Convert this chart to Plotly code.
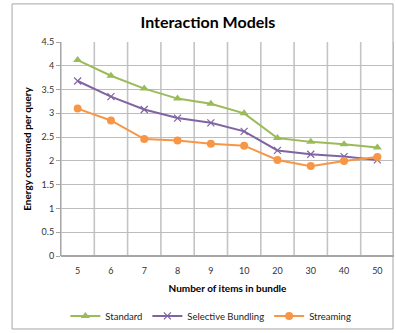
import plotly.graph_objects as go

categories = ["5", "6", "7", "8", "9", "10", "20", "30", "40", "50"]
standard = [4.12, 3.79, 3.52, 3.31, 3.20, 3.00, 2.48, 2.40, 2.35, 2.28]
selective = [3.68, 3.35, 3.08, 2.90, 2.80, 2.62, 2.22, 2.14, 2.09, 2.02]
streaming = [3.10, 2.85, 2.46, 2.43, 2.36, 2.32, 2.02, 1.89, 2.00, 2.08]
y_ticks = [0, 0.5, 1, 1.5, 2, 2.5, 3, 3.5, 4, 4.5]

FONT = "Lato"
GRID = "#BDBDBD"
fig = go.Figure()
fig.add_trace(go.Scatter(x=categories, y=standard, name="Standard", mode="lines+markers",
                         line=dict(color="#9BBB59", width=2),
                         marker=dict(symbol="triangle-up", size=8, color="#9BBB59")))
fig.add_trace(go.Scatter(x=categories, y=selective, name="Selective Bundling", mode="lines+markers",
                         line=dict(color="#8064A2", width=2),
                         marker=dict(symbol="x-thin", size=7, color="#8064A2",
                                     line=dict(color="#8064A2", width=1.2))))
fig.add_trace(go.Scatter(x=categories, y=streaming, name="Streaming", mode="lines+markers",
                         line=dict(color="#F79646", width=2),
                         marker=dict(symbol="circle", size=8, color="#F79646")))

# vertical grid lines at the category boundaries
shapes = [dict(type="line", xref="x", yref="paper", x0=i - 0.5, x1=i - 0.5, y0=0, y1=1,
               line=dict(color="#C4C4C4", width=1.6), layer="below")
          for i in range(len(categories) + 1)]
shapes.append(dict(type="rect", xref="paper", yref="paper", x0=-0.147, x1=0.997, y0=-0.341, y1=1.178,
                   line=dict(color="#A6A6A6", width=1), fillcolor="rgba(0,0,0,0)", layer="below"))

fig.update_layout(
    width=396, height=333,
    margin=dict(l=61, r=2, t=42, b=77),
    paper_bgcolor="white", plot_bgcolor="white",
    font=dict(family=FONT, size=9, color="#333333"),
    title=dict(text="<b>Interaction Models</b>", x=0.525, xanchor="center", y=0.934, yanchor="middle",
               font=dict(family=FONT, size=16, color="black")),
    showlegend=True,
    legend=dict(orientation="h", x=0.45, xanchor="center", y=-0.28, yanchor="middle",
                font=dict(family=FONT, size=9.5, color="#222222"), itemwidth=30,
                tracegroupgap=0, bgcolor="rgba(0,0,0,0)"),
    shapes=shapes,
)
fig.update_xaxes(type="category", showgrid=False,
                 range=[-0.5, len(categories) - 0.5],
                 showline=False, ticks="", tickfont=dict(size=9), ticklabelstandoff=8,
                 title=dict(text="<b>Number of items in bundle</b>", font=dict(size=10, color="black"), standoff=9),
                 zeroline=False)
fig.update_yaxes(range=[0, 4.5], tickvals=y_ticks, ticktext=[f"{v:g}" for v in y_ticks],
                 showgrid=True, gridcolor=GRID, gridwidth=1, zeroline=True, zerolinecolor="#A6A6A6",
                 showline=True, linecolor="#A6A6A6", ticks="outside", ticklen=4, tickcolor="#A6A6A6",
                 tickfont=dict(size=9),
                 title=dict(text="<b>Energy consumed per query</b>", font=dict(size=10, color="black"), standoff=8))
fig.write_html("out.html")
